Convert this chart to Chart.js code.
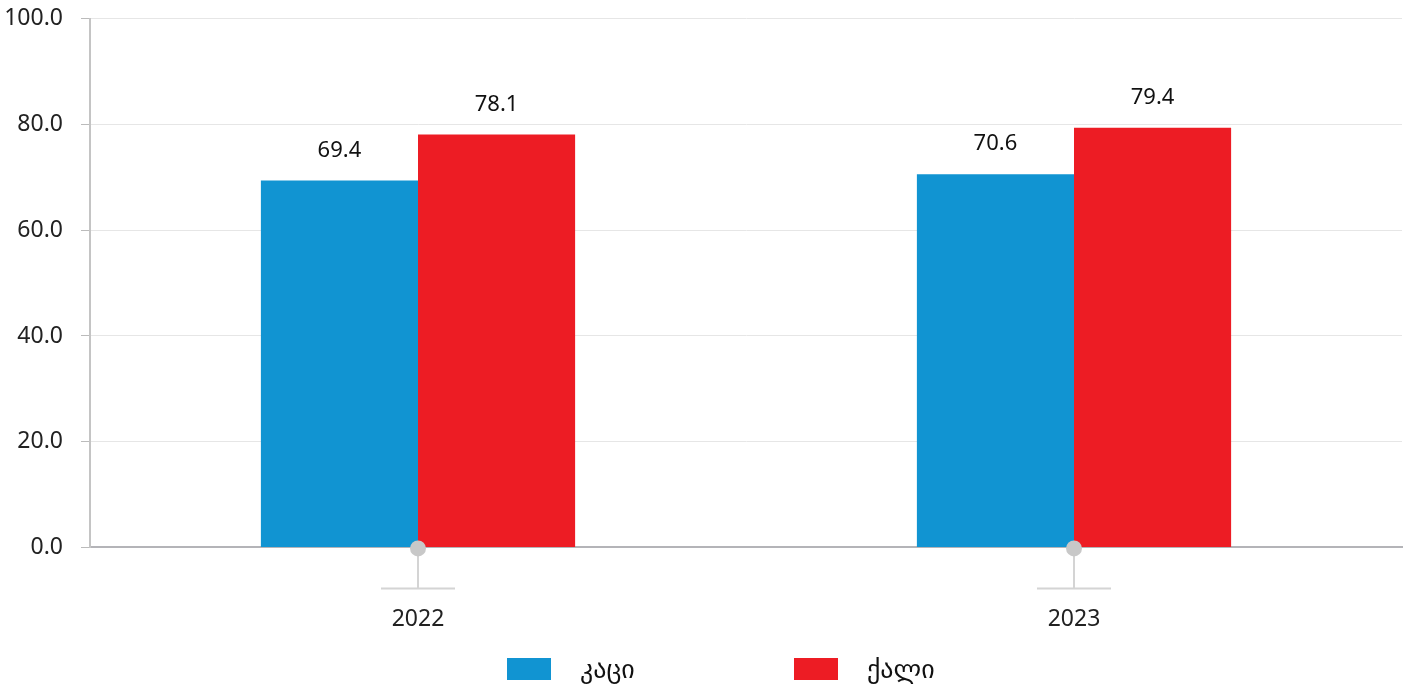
<!DOCTYPE html>
<html>
<head>
<meta charset="utf-8">
<script src="https://cdn.jsdelivr.net/npm/chart.js@4"></script>
<style>
  html, body { margin: 0; padding: 0; background: #fff; overflow: hidden; }
  #wrap { width: 1412px; height: 700px; margin-top: -13px; }
</style>
</head>
<body>
<div id="wrap"><canvas id="myChart"></canvas></div>
<script>
'use strict';

const years = ['2022', '2023'];
const men = [69.4, 70.6];
const women = [78.1, 79.4];
const seriesNames = ['კაცი', 'ქალი'];
const yTicks = [0, 20, 40, 60, 80, 100];

const FONT = '"Noto Sans", "DejaVu Sans", sans-serif';

// values above each bar
const valueLabels = {
  id: 'valueLabels',
  afterDatasetsDraw(chart) {
    const ctx = chart.ctx;
    ctx.save();
    ctx.font = '22px ' + FONT;
    ctx.fillStyle = '#111';
    ctx.textAlign = 'center';
    ctx.textBaseline = 'middle';
    chart.data.datasets.forEach((ds, i) => {
      chart.getDatasetMeta(i).data.forEach((bar, j) => {
        ctx.fillText(ds.data[j].toFixed(1), bar.x, bar.y - 30);
      });
    });
    ctx.restore();
  }
};

// the little dot + stem under each category
const categoryMarks = {
  id: 'categoryMarks',
  afterDraw(chart) {
    const ctx = chart.ctx;
    const x = chart.scales.x;
    const y0 = chart.scales.y.getPixelForValue(0);
    ctx.save();
    years.forEach((_, i) => {
      const cx = x.getPixelForValue(i);
      ctx.strokeStyle = '#d4d4d4';
      ctx.lineWidth = 2;
      ctx.beginPath();
      ctx.moveTo(cx, y0);
      ctx.lineTo(cx, y0 + 41);
      ctx.moveTo(cx - 37, y0 + 41);
      ctx.lineTo(cx + 37, y0 + 41);
      ctx.stroke();
      ctx.fillStyle = '#c8c8c8';
      ctx.beginPath();
      ctx.arc(cx, y0 + 1, 8, 0, Math.PI * 2);
      ctx.fill();
    });
    ctx.restore();
  }
};

// simple legend at the bottom, wide spacing between the two items
const bottomLegend = {
  id: 'bottomLegend',
  afterDraw(chart) {
    const ctx = chart.ctx;
    const top = chart.height - 29;
    let x = chart.width / 2 - 199;
    ctx.save();
    ctx.font = '26px ' + FONT;
    ctx.textBaseline = 'middle';
    ctx.textAlign = 'left';
    chart.data.datasets.forEach(ds => {
      ctx.fillStyle = ds.backgroundColor;
      ctx.fillRect(x, top, 44, 22);
      ctx.fillStyle = '#111';
      ctx.fillText(ds.label, x + 73, top + 13);
      x += 287;
    });
    ctx.restore();
  }
};

new Chart(document.getElementById('myChart'), {
  type: 'bar',
  data: {
    labels: years,
    datasets: [
      { label: seriesNames[0], data: men, backgroundColor: '#1194d2' },
      { label: seriesNames[1], data: women, backgroundColor: '#ed1c24' }
    ]
  },
  options: {
    responsive: true,
    maintainAspectRatio: false,
    animation: false,
    categoryPercentage: 0.479,
    barPercentage: 1,
    layout: { padding: { top: 5, right: 10, left: 0, bottom: 4 } },
    plugins: {
      tooltip: { enabled: false },
      legend: { display: false }
    },
    scales: {
      x: {
        grid: { display: false },
        border: { display: true, color: '#b4b4b8', width: 2 },
        ticks: {
          color: '#222',
          padding: 50,
          font: { size: 23, family: FONT }
        }
      },
      y: {
        min: 0,
        max: 100,
        afterBuildTicks(scale) {
          scale.ticks = yTicks.map(v => ({ value: v }));
        },
        afterFit(scale) { scale.width = 90; },
        grid: { color: '#e6e6e6', lineWidth: 1, tickLength: 9, tickColor: '#bbb' },
        border: { display: true, color: '#c4c4c4', width: 2 },
        ticks: {
          color: '#222',
          padding: 18,
          font: { size: 23, family: FONT },
          callback: v => v.toFixed(1)
        }
      }
    }
  },
  plugins: [valueLabels, categoryMarks, bottomLegend]
});
</script>
</body>
</html>
